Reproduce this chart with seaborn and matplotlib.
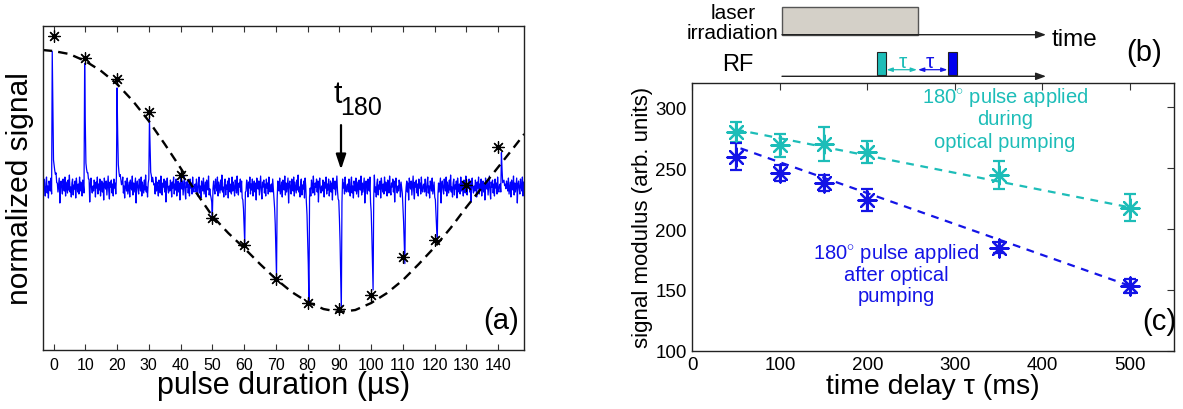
import numpy as np
import pandas as pd
import matplotlib
matplotlib.use("Agg")
import matplotlib.pyplot as plt
import seaborn as sns
from matplotlib.patches import Rectangle

# ---- panel (a): signal vs pulse duration ----
pulse_us = [0, 10, 20, 30, 40, 50, 60, 70, 80, 90, 100, 110, 120, 130, 140]
star_signal = [1.51, 1.29, 1.08, 0.75, 0.12, -0.31, -0.58, -0.92, -1.16, -1.22,
               -1.08, -0.70, -0.53, 0.02, 0.40]
spike_pos = [-0.3, 9.8, 20.0, 30.2, 50.1, 60.2, 70.3, 80.4, 90.7, 100.6, 110.7, 120.8, 141.0]
spike_peak = [1.36, 1.20, 1.00, 0.70, -0.25, -0.55, -0.90, -1.15, -1.25, -1.05, -0.79, -0.59, 0.32]
fit_us = [-3.4, 0, 5, 10, 15, 20, 25, 30, 35, 40, 45, 50, 55, 60, 65, 70, 75, 80, 85, 90,
          95, 100, 105, 110, 115, 120, 125, 130, 135, 140, 145, 148.2]
fit_signal = [1.37, 1.36, 1.33, 1.26, 1.16, 1.03, 0.86, 0.66, 0.43, 0.19, -0.06, -0.29,
              -0.46, -0.61, -0.77, -0.92, -1.05, -1.15, -1.22, -1.25, -1.23, -1.16, -1.06,
              -0.93, -0.77, -0.60, -0.41, -0.20, 0.0, 0.20, 0.40, 0.53]
# baseline noise of the recorded trace (x0.01), read as a texture
noise = [3, -5, 8, -2, -9, 4, 10, -6, 1, -11, 6, 2, -4, 9, -7, -1, 5, -10, 7, 0,
         -3, 11, -8, 4, -5, 2, 9, -16, 3, 6, -2, -7, 8, 1, -4, 10, -9, 5, -1, -6,
         7, -3, 12, -5, 0, -10, 4, 8, -8, 2, -2, 6, -11, 9, 1, -5, 3, -7, 10, -4,
         5, -1, -9, 7, 2, -6, 11, -3, -8, 4, 0, 8, -5, 6, -15, 3, 9, -2, -6, 1,
         -4, 7, 2, -10, 5, -1, 10, -7, 3, -3, 8, -9, 0, 6, -5, 4, -13, 9, 1, -2,
         6, -8, 2, 11, -4, -12, 5, 0, 7, -6, 3, -9, 8, -1, 4, -7, 10, -3, -5, 2]
rise_shape = [1.0, 0.55, 0.22, 0.14, 0.12, 0.10, 0.08, 0.05]
dip_shape = [0.12, 0.25, 0.45, 0.7, 1.0, 0.1]

# ---- panel (c): signal modulus vs delay ----
delay_ms = [50, 100, 150, 200, 350, 500]
during = [279.8, 268.9, 270.0, 263.1, 244.8, 217.5]
during_err = [8, 9.5, 14, 9, 11.5, 11]
after = [259.3, 246.2, 237.5, 223.8, 184.7, 153.3]
after_err = [11, 6.5, 6.5, 9, 4.5, 5.5]
during_fit_ms = [50, 500]
during_fit = [281.7, 217.8]
after_fit_ms = [55, 500]
after_fit = [266.3, 153.3]

CYAN = "#1dbdb8"
BLUE = "#1414e6"

sns.set_style("white")
plt.rcParams["font.family"] = ["Liberation Sans", "DejaVu Sans"]
plt.rcParams["mathtext.fontset"] = "custom"
plt.rcParams["mathtext.rm"] = "Liberation Sans"
for key in ["text.color", "axes.labelcolor", "xtick.color", "ytick.color"]:
    plt.rcParams[key] = "black"

fig = plt.figure(figsize=(11.83, 4.10), dpi=100)
ast = (8, 2, 0)

# build the trace
trace_x = np.arange(-3.4, 148.2, 0.2)
trace_y = np.resize(np.array(noise, dtype=float), len(trace_x)) * 0.01
for pos, h in zip(spike_pos, spike_peak):
    i = int(np.argmin(np.abs(trace_x - pos)))
    if h > 0:
        for k, s in enumerate(rise_shape):
            if i + k < len(trace_y):
                trace_y[i + k] = h * s + trace_y[i + k] * 0.3
    else:
        for k, s in enumerate(dip_shape):
            j = i - 4 + k
            trace_y[j] = h * s + trace_y[j] * 0.3

ax = fig.add_axes([0.0361, 0.1446, 0.4071, 0.7902])
sns.lineplot(x=trace_x, y=trace_y, ax=ax, color="#0000ff", lw=0.9,
             estimator=None, sort=False)
sns.lineplot(x=fit_us, y=fit_signal, ax=ax, color="black", lw=1.7,
             estimator=None, sort=False, dashes=False)
ax.lines[-1].set_dashes((4, 2.6))
sns.scatterplot(x=pulse_us, y=star_signal, ax=ax, marker=ast, s=70,
                color="black", linewidth=0.9, zorder=5)
ax.set_xlim(-3.4, 148.2)
ax.set_ylim(-1.627, 1.613)
ax.set_xticks(pulse_us)
ax.set_yticks([])
ax.tick_params(axis="x", direction="in", top=True, bottom=True, length=4,
               labelsize=11.5, pad=5, color="#333333", labelcolor="black")
ax.set_xlabel("pulse duration (\u00b5s)", fontsize=22, labelpad=-1)
ax.set_ylabel("normalized signal", fontsize=21.5, labelpad=6)
ax.annotate("", xy=(90.5, 0.147), xytext=(90.5, 0.647),
            arrowprops=dict(arrowstyle="-|>,head_length=0.9,head_width=0.3",
                            color="black", lw=1.6))
ax.text(88.0, 0.847, "t", fontsize=22, ha="left", va="baseline")
ax.text(90.2, 0.73, "180", fontsize=18, ha="left", va="baseline")
ax.text(140.8, -1.33, "(a)", fontsize=21, ha="center", va="center")
for s in ax.spines.values():
    s.set_color("#222222")
    s.set_linewidth(1.0)

# ---- panel (c) ----
axc = fig.add_axes([0.5853, 0.1422, 0.4067, 0.6529])
ebkw = dict(fmt="none", elinewidth=1.6, capsize=4.5, capthick=1.6)
axc.errorbar(delay_ms, during, yerr=during_err, ecolor=CYAN, **ebkw)
axc.errorbar(delay_ms, after, yerr=after_err, ecolor=BLUE, **ebkw)
sns.lineplot(x=during_fit_ms, y=during_fit, ax=axc, color=CYAN, lw=1.6,
             estimator=None)
axc.lines[-1].set_dashes((3.5, 3))
sns.lineplot(x=after_fit_ms, y=after_fit, ax=axc, color=BLUE, lw=1.6,
             estimator=None)
axc.lines[-1].set_dashes((3.5, 3))
sns.scatterplot(x=delay_ms, y=during, ax=axc, marker=ast, s=170,
                color=CYAN, linewidth=1.6, zorder=5)
sns.scatterplot(x=delay_ms, y=after, ax=axc, marker=ast, s=170,
                color=BLUE, linewidth=1.6, zorder=5)
axc.set_xlim(0, 550)
axc.set_ylim(100, 320)
axc.set_xticks([0, 100, 200, 300, 400, 500])
axc.set_yticks([100, 150, 200, 250, 300])
axc.tick_params(direction="in", top=True, right=True, length=5,
                labelsize=13.5, pad=4, color="#333333", labelcolor="black")
axc.set_xlabel("time delay \u03c4 (ms)", fontsize=20.5, labelpad=0)
axc.set_ylabel("signal modulus (arb. units)", fontsize=16, labelpad=2)
axc.text(357, 309, r"180$^{\circ}$ pulse applied", color=CYAN, fontsize=14.5,
         ha="center", va="center")
axc.text(357, 290.7, "during", color=CYAN, fontsize=14.5, ha="center", va="center")
axc.text(357, 272, "optical pumping", color=CYAN, fontsize=14.5, ha="center", va="center")
axc.text(233, 181, r"180$^{\circ}$ pulse applied", color=BLUE, fontsize=14.5,
         ha="center", va="center")
axc.text(233, 163, "after optical", color=BLUE, fontsize=14.5, ha="center", va="center")
axc.text(233, 145, "pumping", color=BLUE, fontsize=14.5, ha="center", va="center")
axc.text(534, 124, "(c)", fontsize=21, ha="center", va="center")
for s in axc.spines.values():
    s.set_color("#222222")
    s.set_linewidth(1.0)

# ---- panel (b): pulse sequence sketch (pixel coordinates) ----
axb = fig.add_axes([0, 0, 1, 1], zorder=10)
axb.set_xlim(0, 1183)
axb.set_ylim(410, 0)
axb.axis("off")
axb.patch.set_alpha(0)
axb.add_patch(Rectangle((782, 7.5), 136, 28.2, facecolor="#d4d0c8",
                        edgecolor="#555555", lw=1.0))
arr = dict(arrowstyle="-|>,head_length=0.6,head_width=0.22", color="#222222", lw=1.0,
           shrinkA=0, shrinkB=0)
axb.annotate("", xy=(1046, 35.7), xytext=(782, 35.7), arrowprops=arr)
axb.annotate("", xy=(1046, 77.3), xytext=(782, 77.3), arrowprops=arr)
axb.text(733, 13.5, "laser", fontsize=15, ha="center", va="center")
axb.text(733, 33.5, "irradiation", fontsize=15, ha="center", va="center")
axb.text(1052, 40, "time", fontsize=17.5, ha="left", va="center")
axb.text(738, 65, "RF", fontsize=17, ha="center", va="center")
axb.text(1144, 52.7, "(b)", fontsize=21, ha="center", va="center")
axb.add_patch(Rectangle((877, 52.7), 9, 23.5, facecolor=CYAN, edgecolor="#222222", lw=0.8))
axb.add_patch(Rectangle((948, 52.7), 9, 23.5, facecolor="#0000ee", edgecolor="#222222", lw=0.8))
darr = dict(arrowstyle="<|-|>,head_length=0.35,head_width=0.12", lw=0.9,
            shrinkA=0, shrinkB=0)
axb.annotate("", xy=(917, 70.7), xytext=(886.5, 70.7), arrowprops=dict(color=CYAN, **darr))
axb.annotate("", xy=(947.5, 70.7), xytext=(918, 70.7), arrowprops=dict(color=BLUE, **darr))
axb.text(902.5, 62, "\u03c4", color=CYAN, fontsize=15, ha="center", va="center")
axb.text(930, 62, "\u03c4", color=BLUE, fontsize=15, ha="center", va="center")

fig.savefig("out.png", dpi=100)
